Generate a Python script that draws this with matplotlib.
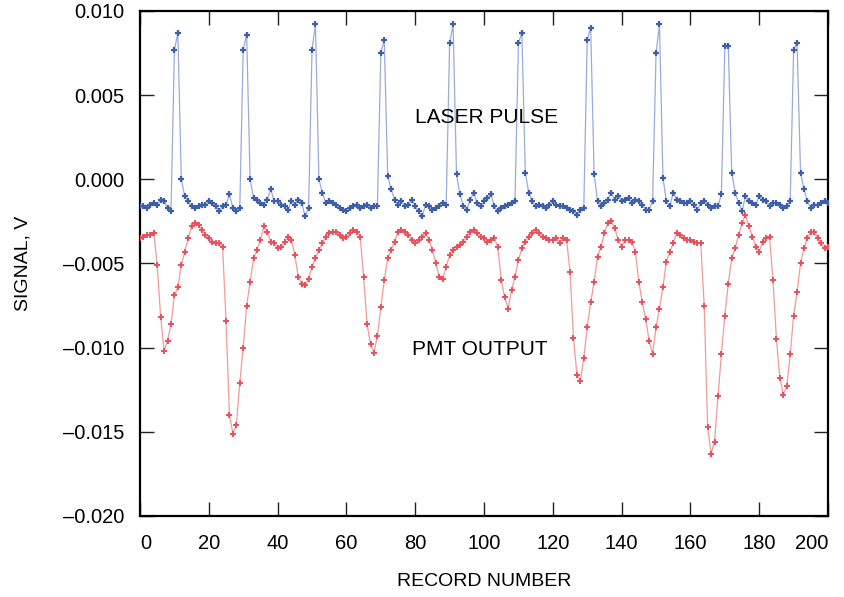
import matplotlib
matplotlib.use("Agg")
import matplotlib.pyplot as plt
from matplotlib.ticker import FuncFormatter

plt.rcParams['font.family'] = ['Liberation Sans', 'DejaVu Sans']

record = list(range(0, 201))

laser_pulse = [
    -0.0016, -0.0016, -0.0017, -0.0015, -0.0014, -0.0015, -0.0012, -0.0013, -0.0017, -0.0019,
    0.0077, 0.0087, 0.0000, -0.0010, -0.0013, -0.0016, -0.0017, -0.0016, -0.0015, -0.0015,
    -0.0013, -0.0014, -0.0016, -0.0019, -0.0016, -0.0015, -0.0009, -0.0017, -0.0019, -0.0017,
    0.0077, 0.0086, 0.0000, -0.0011, -0.0012, -0.0014, -0.0015, -0.0012, -0.0006, -0.0013,
    -0.0013, -0.0015, -0.0016, -0.0018, -0.0013, -0.0015, -0.0012, -0.0014, -0.0022, -0.0017,
    0.0077, 0.0092, 0.0000, -0.0008, -0.0014, -0.0013, -0.0014, -0.0015, -0.0017, -0.0018,
    -0.0019, -0.0017, -0.0016, -0.0015, -0.0017, -0.0016, -0.0015, -0.0017, -0.0016, -0.0016,
    0.0075, 0.0083, 0.0002, -0.0006, -0.0012, -0.0015, -0.0013, -0.0016, -0.0015, -0.0012,
    -0.0016, -0.0019, -0.0022, -0.0015, -0.0016, -0.0018, -0.0017, -0.0016, -0.0014, -0.0015,
    0.0081, 0.0092, 0.0003, -0.0009, -0.0016, -0.0018, -0.0012, -0.0008, -0.0014, -0.0016,
    -0.0013, -0.0011, -0.0009, -0.0016, -0.0019, -0.0017, -0.0016, -0.0015, -0.0014, -0.0013,
    0.0081, 0.0087, 0.0004, -0.0008, -0.0013, -0.0016, -0.0015, -0.0016, -0.0017, -0.0015,
    -0.0013, -0.0015, -0.0016, -0.0016, -0.0017, -0.0018, -0.0019, -0.0021, -0.0018, -0.0017,
    0.0083, 0.0090, 0.0003, -0.0013, -0.0016, -0.0014, -0.0012, -0.0008, -0.0012, -0.0010,
    -0.0013, -0.0012, -0.0011, -0.0014, -0.0012, -0.0013, -0.0015, -0.0018, -0.0018, -0.0013,
    0.0075, 0.0092, 0.0001, -0.0013, -0.0016, -0.0008, -0.0012, -0.0013, -0.0014, -0.0014,
    -0.0013, -0.0015, -0.0018, -0.0014, -0.0013, -0.0015, -0.0017, -0.0016, -0.0016, -0.0009,
    0.0079, 0.0079, 0.0004, -0.0008, -0.0014, -0.0019, -0.0010, -0.0013, -0.0014, -0.0015,
    -0.0010, -0.0012, -0.0013, -0.0016, -0.0014, -0.0014, -0.0015, -0.0017, -0.0016, -0.0013,
    0.0077, 0.0081, 0.0004, -0.0006, -0.0013, -0.0017, -0.0015, -0.0015, -0.0014, -0.0013,
    -0.0014,
]

pmt_output = [
    -0.0035, -0.0034, -0.0033, -0.0033, -0.0032, -0.0051, -0.0082, -0.0102, -0.0096, -0.0086,
    -0.0069, -0.0064, -0.0051, -0.0043, -0.0035, -0.0028, -0.0026, -0.0027, -0.0030, -0.0033,
    -0.0035, -0.0037, -0.0038, -0.0038, -0.0040, -0.0084, -0.0140, -0.0151, -0.0146, -0.0121,
    -0.0100, -0.0075, -0.0061, -0.0047, -0.0042, -0.0036, -0.0028, -0.0031, -0.0037, -0.0038,
    -0.0041, -0.0040, -0.0037, -0.0034, -0.0036, -0.0045, -0.0058, -0.0062, -0.0063, -0.0059,
    -0.0052, -0.0047, -0.0042, -0.0038, -0.0034, -0.0032, -0.0031, -0.0031, -0.0033, -0.0035,
    -0.0034, -0.0032, -0.0030, -0.0031, -0.0034, -0.0058, -0.0086, -0.0098, -0.0103, -0.0093,
    -0.0076, -0.0060, -0.0047, -0.0042, -0.0037, -0.0031, -0.0030, -0.0031, -0.0033, -0.0036,
    -0.0038, -0.0036, -0.0034, -0.0032, -0.0036, -0.0042, -0.0050, -0.0058, -0.0059, -0.0052,
    -0.0045, -0.0042, -0.0040, -0.0039, -0.0037, -0.0034, -0.0031, -0.0030, -0.0032, -0.0034,
    -0.0035, -0.0037, -0.0036, -0.0035, -0.0040, -0.0060, -0.0070, -0.0077, -0.0066, -0.0058,
    -0.0048, -0.0041, -0.0037, -0.0034, -0.0032, -0.0030, -0.0032, -0.0034, -0.0035, -0.0036,
    -0.0036, -0.0035, -0.0038, -0.0035, -0.0036, -0.0055, -0.0094, -0.0116, -0.0120, -0.0106,
    -0.0088, -0.0073, -0.0061, -0.0046, -0.0040, -0.0032, -0.0026, -0.0025, -0.0029, -0.0036,
    -0.0040, -0.0036, -0.0036, -0.0037, -0.0043, -0.0061, -0.0073, -0.0083, -0.0096, -0.0104,
    -0.0088, -0.0077, -0.0064, -0.0049, -0.0043, -0.0038, -0.0032, -0.0033, -0.0035, -0.0036,
    -0.0036, -0.0037, -0.0038, -0.0038, -0.0075, -0.0147, -0.0163, -0.0156, -0.0129, -0.0104,
    -0.0081, -0.0062, -0.0047, -0.0041, -0.0033, -0.0026, -0.0021, -0.0028, -0.0034, -0.0040,
    -0.0043, -0.0037, -0.0035, -0.0034, -0.0060, -0.0095, -0.0118, -0.0128, -0.0123, -0.0104,
    -0.0081, -0.0067, -0.0050, -0.0041, -0.0035, -0.0031, -0.0031, -0.0035, -0.0038, -0.0041,
    -0.0040,
]

x_ticks = [0, 20, 40, 60, 80, 100, 120, 140, 160, 180, 200]
y_ticks = [-0.020, -0.015, -0.010, -0.005, 0.000, 0.005, 0.010]

fig = plt.figure(figsize=(8.44, 5.97), dpi=100)
ax = fig.add_axes([0.1659, 0.1357, 0.8152, 0.8459])

ax.plot(record, laser_pulse, color='#9aabdb', lw=0.9, zorder=2)
ax.plot(record, laser_pulse, linestyle='none', marker='+', ms=4.5, mew=1.6,
        color='#3d5ea8', zorder=3)
ax.plot(record, pmt_output, color='#f29a9a', lw=0.9, zorder=2)
ax.plot(record, pmt_output, linestyle='none', marker='+', ms=4.5, mew=1.4,
        color='#e8505c', zorder=3)

ax.text(100.6, 0.0037, "LASER PULSE", fontsize=15, ha='center', va='center')
ax.text(98.8, -0.0101, "PMT OUTPUT", fontsize=15, ha='center', va='center')

ax.set_xlim(0, 200)
ax.set_ylim(-0.020, 0.010)
ax.set_xticks(x_ticks)
ax.set_yticks(y_ticks)
ax.yaxis.set_major_formatter(FuncFormatter(lambda v, p: ("%.3f" % v).replace("-", "\u2013")))

ax.tick_params(direction='in', top=True, right=True, length=10, width=1.0,
               labelsize=14.5, color='#222222')
ax.tick_params(axis='x', pad=13)
ax.tick_params(axis='y', pad=11)
for s in ax.spines.values():
    s.set_linewidth(1.6)

xl = ax.get_xticklabels()
xl[0].set_ha('left')
xl[-1].set_ha('right')

ax.set_xlabel("RECORD NUMBER", fontsize=14)
ax.set_ylabel("SIGNAL, V", fontsize=14)
ax.xaxis.set_label_coords(0.5, -0.113)
ax.yaxis.set_label_coords(-0.158, 0.5)

fig.savefig("out.png", dpi=100)
